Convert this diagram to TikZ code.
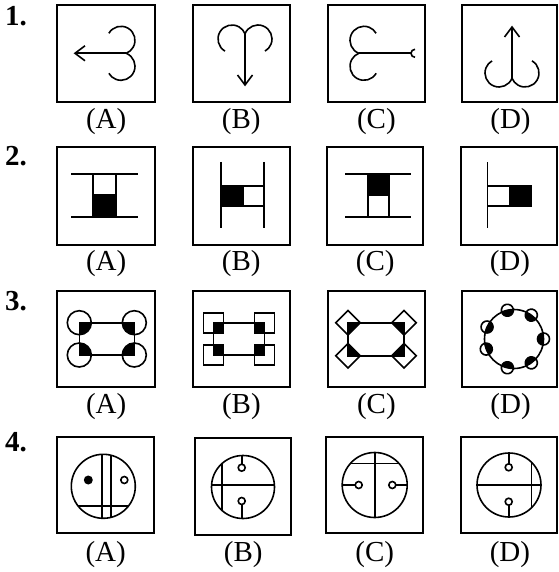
\documentclass[tikz,border=0pt]{standalone}
\usepackage{fontspec}
\setmainfont{Liberation Serif}
\begin{document}
\begin{tikzpicture}[x=1pt,y=1pt,
  box/.style={draw, line width=2pt, inner sep=0pt, outer sep=0pt},
  fig/.style={line width=1.6pt},
  lab/.style={anchor=base, inner sep=0pt, font=\fontsize{29}{31}\selectfont},
  num/.style={anchor=base west, inner sep=0pt, font=\fontsize{29}{31}\selectfont\bfseries}]
\useasboundingbox (0,0) rectangle (558,-572);

% ---------- row numbers ----------
\node[num] (n1) at (5,-26) {1.};
\node[num] (n2) at (5,-165) {2.};
\node[num] (n3) at (5,-310) {3.};
\node[num] (n4) at (5,-451) {4.};

% ---------- boxes ----------
\node[box, minimum width=97.7pt, minimum height=97pt] (b1a) at (106.2,-53.2) {};
\node[box, minimum width=97pt, minimum height=97pt] (b1b) at (241.2,-53.2) {};
\node[box, minimum width=96.7pt, minimum height=97pt] (b1c) at (376.4,-53.2) {};
\node[box, minimum width=94.5pt, minimum height=97pt] (b1d) at (509.5,-53.2) {};

\node[box, minimum width=97.7pt, minimum height=98.3pt] (b2a) at (106.2,-195.9) {};
\node[box, minimum width=97pt, minimum height=98.3pt] (b2b) at (241.2,-195.9) {};
\node[box, minimum width=95.7pt, minimum height=98.3pt] (b2c) at (375.2,-195.9) {};
\node[box, minimum width=95.5pt, minimum height=98.3pt] (b2d) at (508.9,-195.9) {};

\node[box, minimum width=97.7pt, minimum height=95.7pt] (b3a) at (106.2,-338.9) {};
\node[box, minimum width=97.3pt, minimum height=95.7pt] (b3b) at (241.4,-338.9) {};
\node[box, minimum width=96.7pt, minimum height=95.7pt] (b3c) at (376.4,-338.9) {};
\node[box, minimum width=94.5pt, minimum height=95.7pt] (b3d) at (509.6,-338.9) {};

\node[box, minimum width=96.7pt, minimum height=96.6pt] (b4a) at (105.7,-485) {};
\node[box, minimum width=96.3pt, minimum height=96.7pt] (b4b) at (243.2,-486.7) {};
\node[box, minimum width=96.7pt, minimum height=96.6pt] (b4c) at (374.7,-485) {};
\node[box, minimum width=95.5pt, minimum height=96.3pt] (b4d) at (508.9,-485.2) {};

% ---------- labels ----------
\node[lab] (l1a) at (106.2,-128.5) {(A)};
\node[lab] (l1b) at (241.2,-128.5) {(B)};
\node[lab] (l1c) at (376.4,-128.5) {(C)};
\node[lab] (l1d) at (510.5,-128.5) {(D)};
\node[lab] (l2a) at (106.2,-270.5) {(A)};
\node[lab] (l2b) at (241.2,-270.5) {(B)};
\node[lab] (l2c) at (375.2,-270.5) {(C)};
\node[lab] (l2d) at (509.9,-270.5) {(D)};
\node[lab] (l3a) at (106.2,-413.5) {(A)};
\node[lab] (l3b) at (241.4,-413.5) {(B)};
\node[lab] (l3c) at (376.4,-413.5) {(C)};
\node[lab] (l3d) at (510.6,-413.5) {(D)};
\node[lab] (l4a) at (105.7,-561.5) {(A)};
\node[lab] (l4b) at (243.2,-561.5) {(B)};
\node[lab] (l4c) at (374.7,-561.5) {(C)};
\node[lab] (l4d) at (509.9,-561.5) {(D)};

% ---------- row 1 ----------
\begin{scope}[shift={(121,-53.3)}, fig]
 \draw ([shift={(150:14)}]0,13) arc[start angle=150,end angle=-68.2,radius=14];
 \draw ([shift={(68.2:14)}]0,-13) arc[start angle=68.2,end angle=-150,radius=14];
 \draw (5.2,0) -- (-46,0);
 \draw (-36,7.5) -- (-46,0) -- (-36,-7.5);
\end{scope}
\begin{scope}[shift={(245,-39)}, rotate=90, fig]
 \draw ([shift={(150:14)}]0,13) arc[start angle=150,end angle=-68.2,radius=14];
 \draw ([shift={(68.2:14)}]0,-13) arc[start angle=68.2,end angle=-150,radius=14];
 \draw (5.2,0) -- (-46,0);
 \draw (-36,7.5) -- (-46,0) -- (-36,-7.5);
\end{scope}
\begin{scope}[shift={(364,-53.3)}, rotate=180, fig]
 \draw ([shift={(150:14)}]0,13) arc[start angle=150,end angle=-68.2,radius=14];
 \draw ([shift={(68.2:14)}]0,-13) arc[start angle=68.2,end angle=-150,radius=14];
 \draw (5.2,0) -- (-47,0);
 \draw ([shift={(-90:4)}]-51,0) arc[start angle=-90,end angle=90,radius=4];
\end{scope}
\begin{scope}[shift={(512,-73)}, rotate=-90, fig]
 \draw ([shift={(150:14)}]0,13) arc[start angle=150,end angle=-68.2,radius=14];
 \draw ([shift={(68.2:14)}]0,-13) arc[start angle=68.2,end angle=-150,radius=14];
 \draw (5.2,0) -- (-46,0);
 \draw (-36,7.5) -- (-46,0) -- (-36,-7.5);
\end{scope}

% ---------- row 2 ----------
\begin{scope}[fig]
 % A
 \draw (71,-174) -- (138,-174);
 \draw (71,-216.7) -- (138,-216.7);
 \fill (92.7,-195) rectangle (115.7,-216.7);
 \draw (92.7,-174) rectangle (115.7,-216.7);
 \draw (92.7,-195) -- (115.7,-195);
 % B
 \draw (221,-162) -- (221,-228);
 \draw (264,-162) -- (264,-228);
 \fill (221,-185.7) rectangle (244,-205.7);
 \draw (221,-185.7) rectangle (264,-205.7);
 % C
 \draw (345.3,-174) -- (411.3,-174);
 \draw (345.3,-216.7) -- (411.3,-216.7);
 \fill (368,-174) rectangle (389,-196);
 \draw (368,-174) rectangle (389,-216.7);
 % D
 \draw (487.3,-162.3) -- (487.3,-228.3);
 \fill (508.7,-185.7) rectangle (531.3,-205.7);
 \draw (487.3,-185.7) rectangle (531.3,-205.7);
\end{scope}

% ---------- row 3 ----------
\begin{scope}[fig]
 % A
 \draw (79.3,-322.7) rectangle (134.3,-355);
 \foreach \px/\py/\a in {79.3/322.7/-90, 134.3/322.7/180, 79.3/355/0, 134.3/355/90}{
   \fill (\px,-\py) -- ([shift={(\a:12)}]\px,-\py) arc[start angle=\a, end angle=\a+90, radius=12] -- cycle;
   \draw (\px,-\py) circle (12);
 }
 % B
 \draw (213.3,-322.7) rectangle (264.3,-355);
 \foreach \px/\py/\dx/\dy in {213.3/322.7/1/1, 264.3/322.7/-1/1, 213.3/355/1/-1, 264.3/355/-1/-1}{
   \fill (\px,-\py) rectangle ++(\dx*10,-\dy*10);
   \draw (\px-10,-\py+10) rectangle (\px+10,-\py-10);
 }
 % C
 \draw (348,-322.7) rectangle (404,-355.7);
 \foreach \px/\py/\dx/\dy in {348/322.7/1/1, 404/322.7/-1/1, 348/355.7/1/-1, 404/355.7/-1/-1}{
   \fill (\px,-\py) -- (\px+\dx*12.3,-\py) -- (\px,-\py-\dy*12.3) -- cycle;
   \draw (\px-12.3,-\py) -- (\px,-\py+12.3) -- (\px+12.3,-\py) -- (\px,-\py-12.3) -- cycle;
 }
 % D
 \draw (514,-339) circle (29.5);
 \foreach \t in {0,54,103,156,200,257,306}{
   \begin{scope}[shift={(514,-339)}, rotate=\t]
     \fill (29.5,6) arc[start angle=90, end angle=270, radius=6] -- cycle;
     \draw (29.5,0) circle (6);
   \end{scope}
 }
\end{scope}

% ---------- row 4 ----------
\begin{scope}[fig]
 % A
 \begin{scope}
   \clip (103.3,-486.3) circle (32);
   \draw (101.7,-440) -- (101.7,-530);
   \draw (111,-440) -- (111,-530);
   \draw (60,-506) -- (150,-506);
 \end{scope}
 \draw (103.3,-486.3) circle (32);
 \fill (88.3,-480) circle (4.5);
 \draw[fill=white] (124.3,-480) circle (3.5);
 % B
 \begin{scope}
   \clip (243,-487) circle (31.5);
   \draw (200,-485) -- (290,-485);
   \draw (221.7,-440) -- (221.7,-530);
   \draw (241.7,-467.7) -- (241.7,-440);
   \draw (241.7,-501) -- (241.7,-530);
 \end{scope}
 \draw (243,-487) circle (31.5);
 \draw[fill=white] (241.7,-467.7) circle (3.5);
 \draw[fill=white] (241.7,-501) circle (3.5);
 % C
 \begin{scope}
   \clip (374.7,-485) circle (32.5);
   \draw (374.7,-440) -- (374.7,-530);
   \draw (330,-463.3) -- (420,-463.3);
   \draw (358.7,-485) -- (330,-485);
   \draw (392.3,-485) -- (420,-485);
 \end{scope}
 \draw (374.7,-485) circle (32.5);
 \draw[fill=white] (358.7,-485) circle (3.5);
 \draw[fill=white] (392.3,-485) circle (3.5);
 % D
 \begin{scope}
   \clip (509,-485) circle (32);
   \draw (465,-485) -- (555,-485);
   \draw (531.3,-440) -- (531.3,-530);
   \draw (508.7,-467.3) -- (508.7,-440);
   \draw (508.7,-501.7) -- (508.7,-530);
 \end{scope}
 \draw (509,-485) circle (32);
 \draw[fill=white] (508.7,-467.3) circle (3.5);
 \draw[fill=white] (508.7,-501.7) circle (3.5);
\end{scope}
\end{tikzpicture}
\end{document}
